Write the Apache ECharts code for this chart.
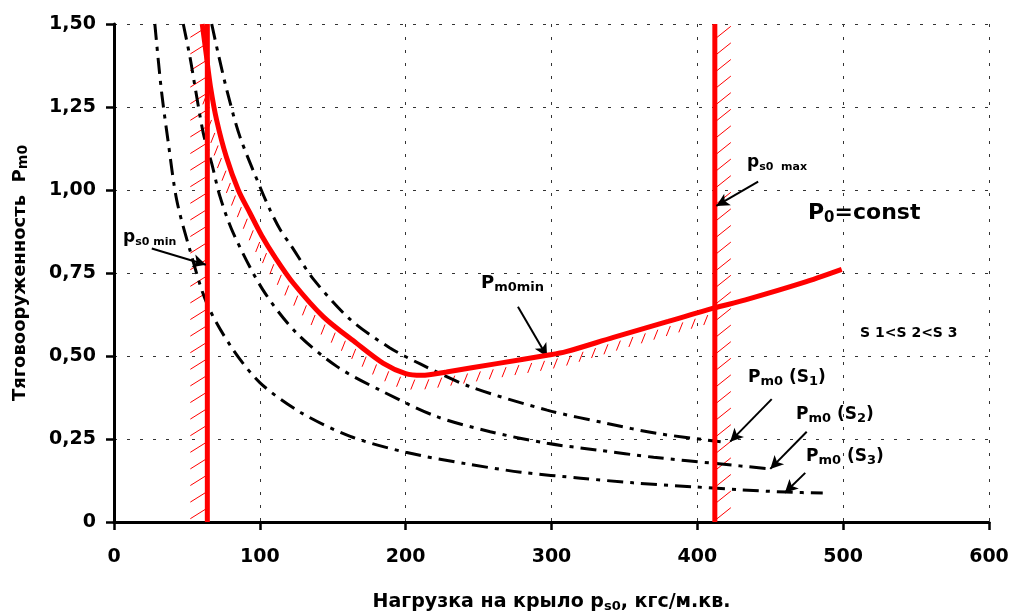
<!DOCTYPE html>
<html>
<head>
<meta charset="utf-8">
<script src="https://cdn.jsdelivr.net/npm/echarts@6/dist/echarts.min.js"></script>
<style>
  html, body { margin: 0; padding: 0; background: #fff; }
  #main { width: 1014px; height: 612px; }
</style>
</head>
<body>
<div id="main"></div>
<script>
// --- data (x: kgf/m2, y: thrust/weight) ---
var psMin = 64;
var psMax = 412;
var pm0min = [[60.5,1.5],[63.2,1.41],[66.2,1.31],[70.4,1.21],[77,1.10],[85.2,1.0],[93.3,0.93],[101.3,0.862],[110,0.80],
  [123,0.719],[143.6,0.618],[166.4,0.538],[184.7,0.478],[200,0.447],[211,0.442],[228,0.452],[262.5,0.477],[297,0.502],
  [310,0.513],[342.5,0.556],[380,0.604],[411,0.644],[433,0.669],[472,0.72],[499,0.761]];
var pmS1 = [[67,1.5],[72,1.4],[78,1.29],[86.4,1.16],[101,1.0],[107,0.94],[114,0.88],[121,0.835],[137,0.73],[162,0.61],
  [189,0.525],[210,0.476],[244,0.408],[297,0.337],[338,0.297],[372,0.267],[416,0.242]];
var pmS2 = [[47.5,1.5],[52.1,1.4],[55.6,1.31],[61.3,1.17],[67,1.08],[72.7,0.98],[81.8,0.87],[102,0.70],[125,0.57],
  [153,0.468],[182,0.398],[221,0.318],[258,0.272],[297,0.237],[331,0.217],[370,0.195],[413,0.176],[450,0.16]];
var pmS3 = [[28,1.5],[32.5,1.3],[37,1.15],[43,0.97],[52,0.82],[63.5,0.66],[80,0.53],[100,0.42],[128,0.33],
  [162,0.258],[200,0.21],[242,0.175],[279,0.15],[320,0.132],[356,0.118],[397,0.106],[430,0.097],[461,0.09],[486,0.087]];
// arrows: [from, to]
var arrows = [
  [[25.9,0.824],[63,0.775]],
  [[441.7,1.025],[413,0.952]],
  [[277,0.648],[297,0.498]],
  [[451,0.37],[422.5,0.242]],
  [[475,0.272],[450,0.16]],
  [[474,0.148],[460,0.088]]
];

var FONT = 'DejaVu Sans';
var RED = '#ff0000';
var chart = echarts.init(document.getElementById('main'));

// hatch strokes along a polyline, every `step` px
function hatch(points, step, mode) {
  return function (params, api) {
    if (params.dataIndex !== 0) return null;
    var px = points.map(function (p) { return api.coord(p); });
    var kids = [];
    var carry = step / 2;
    for (var i = 0; i < px.length - 1; i++) {
      var a = px[i], b = px[i + 1];
      var dx = b[0] - a[0], dy = b[1] - a[1];
      var len = Math.sqrt(dx * dx + dy * dy);
      if (len === 0) continue;
      var ux = dx / len, uy = dy / len;
      var t = carry;
      for (; t <= len; t += step) {
        var x = a[0] + ux * t, y = a[1] + uy * t;
        var s;
        if (mode === 'left') s = { x1: x - 17, y1: y + 5, x2: x - 1, y2: y - 5 };
        else if (mode === 'right') s = { x1: x + 1, y1: y + 6, x2: x + 16, y2: y - 6 };
        else {
          var nx = -uy, ny = ux;
          if (ny < 0) { nx = -nx; ny = -ny; }
          var sx = x + nx * 5, sy = y + ny * 5;
          s = { x1: sx, y1: sy, x2: sx - 4, y2: sy + 10 };
        }
        kids.push({ type: 'line', shape: s, style: { stroke: RED, lineWidth: 1 } });
      }
      carry = t - len;
    }
    return { type: 'group', children: kids };
  };
}

function hatchSeries(points, step, mode) {
  return {
    type: 'custom', coordinateSystem: 'cartesian2d', silent: true, z: 1,
    renderItem: hatch(points, step, mode), data: [points[0]]
  };
}

var dashDot = [16, 7, 4, 7];
function blackCurve(name, data) {
  return {
    name: name, type: 'line', data: data, symbol: 'none', smooth: 0.3, z: 3,
    lineStyle: { color: '#000', width: 3, type: dashDot }
  };
}

var subRich = function (big, small) {
  return {
    b: { fontFamily: FONT, fontWeight: 'bold', fontSize: big, lineHeight: big + 4, fill: '#000' },
    s: { fontFamily: FONT, fontWeight: 'bold', fontSize: small, lineHeight: small, verticalAlign: 'bottom', fill: '#000' }
  };
};

var option = {
  animation: false,
  backgroundColor: '#fff',
  grid: { left: 114, right: 25, top: 24, bottom: 90, outerBoundsMode: 'none', containLabel: false },
  xAxis: {
    type: 'value', min: 0, max: 600, interval: 100,
    name: 'Нагрузка на крыло p{s|s0}, кгс/м.кв.',
    nameLocation: 'middle', nameGap: 70,
    nameTextStyle: {
      fontFamily: FONT, fontWeight: 'bold', fontSize: 19, color: '#000',
      rich: { s: { fontFamily: FONT, fontWeight: 'bold', fontSize: 13, color: '#000', padding: [8, 0, 0, 0] } }
    },
    axisLine: { show: true, lineStyle: { color: '#000', width: 3 } },
    axisTick: { show: true, length: 8, lineStyle: { color: '#000', width: 2.5 } },
    axisLabel: { margin: 26, fontFamily: FONT, fontWeight: 'bold', fontSize: 19, color: '#000' },
    splitLine: { show: true, lineStyle: { color: '#333', width: 1, type: [3, 10] } }
  },
  yAxis: {
    type: 'value', min: 0, max: 1.5, interval: 0.25,
    name: 'Тяговооруженность  P{s|m0}',
    nameLocation: 'middle', nameGap: 84,
    nameTextStyle: {
      fontFamily: FONT, fontWeight: 'bold', fontSize: 18, color: '#000',
      rich: { s: { fontFamily: FONT, fontWeight: 'bold', fontSize: 14, color: '#000', padding: [6, 0, 0, 0] } }
    },
    axisLine: { show: true, lineStyle: { color: '#000', width: 3 } },
    axisTick: { show: true, length: 8, lineStyle: { color: '#000', width: 2.5 } },
    axisLabel: {
      margin: 18, fontFamily: FONT, fontWeight: 'bold', fontSize: 19, color: '#000',
      formatter: function (v) { return v === 0 ? '0' : v.toFixed(2).replace('.', ','); }
    },
    splitLine: { show: true, lineStyle: { color: '#333', width: 1, type: [3, 10] } }
  },
  series: [
    hatchSeries([[psMin, 0], [psMin, 1.5]], 16.6, 'left'),
    hatchSeries([[psMax, 0], [psMax, 1.5]], 16.6, 'right'),
    hatchSeries(pm0min.filter(function (p) { return p[0] >= 66 && p[0] <= psMax; }), 13, 'below'),
    blackCurve('S1', pmS1),
    blackCurve('S2', pmS2),
    blackCurve('S3', pmS3),
    {
      name: 'ps0min', type: 'line', data: [[psMin, 0], [psMin, 1.5]], symbol: 'none', z: 4,
      lineStyle: { color: RED, width: 5 }
    },
    {
      name: 'ps0max', type: 'line', data: [[psMax, 0], [psMax, 1.5]], symbol: 'none', z: 4,
      lineStyle: { color: RED, width: 5 }
    },
    {
      name: 'Pm0min', type: 'line', data: pm0min, symbol: 'none', smooth: 0.3, z: 5,
      lineStyle: { color: RED, width: 5 },
      markLine: {
        silent: true, symbol: ['none', 'arrow'], symbolSize: [10, 13],
        label: { show: false },
        lineStyle: { color: '#000', width: 2, type: 'solid' },
        data: arrows.map(function (a) { return [{ coord: a[0] }, { coord: a[1] }]; })
      }
    }
  ],
  graphic: [
    { type: 'text', left: 123, top: 229, z: 10, style: { text: '{b|p}{s|s0 min}', rich: subRich(17, 11) } },
    { type: 'text', left: 747, top: 154, z: 10, style: { text: '{b|p}{s|s0  max}', rich: subRich(17, 11) } },
    { type: 'text', left: 808, top: 202, z: 10, style: { text: '{b|P}{s|0}{b|=const}', rich: subRich(22, 15) } },
    { type: 'text', left: 481, top: 274, z: 10, style: { text: '{b|P}{s|m0min}', rich: subRich(18, 13) } },
    { type: 'text', left: 860, top: 326, z: 10, style: { text: 'S 1<S 2<S 3', font: 'bold 14px "DejaVu Sans"', fill: '#000' } },
    { type: 'text', left: 748, top: 369, z: 10, style: { text: '{b|P}{s|m0}{b| (S}{s|1}{b|)}', rich: subRich(17, 13) } },
    { type: 'text', left: 796, top: 406, z: 10, style: { text: '{b|P}{s|m0}{b| (S}{s|2}{b|)}', rich: subRich(17, 13) } },
    { type: 'text', left: 806, top: 448, z: 10, style: { text: '{b|P}{s|m0}{b| (S}{s|3}{b|)}', rich: subRich(17, 13) } }
  ]
};
chart.setOption(option);
</script>
</body>
</html>
